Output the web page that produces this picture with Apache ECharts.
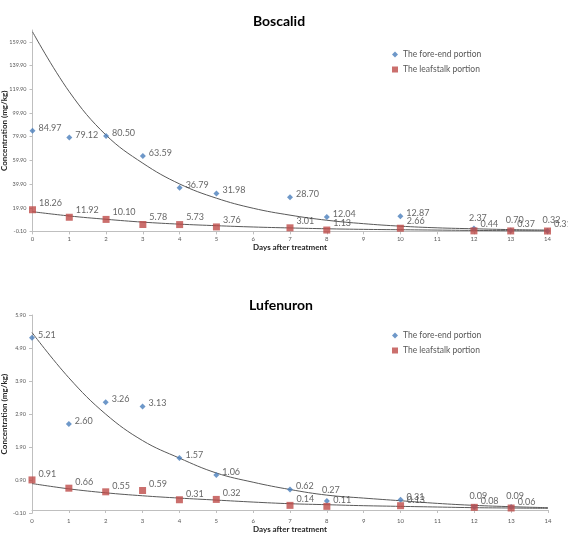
<!DOCTYPE html>
<html>
<head>
<meta charset="utf-8">
<script src="https://cdn.jsdelivr.net/npm/echarts@6/dist/echarts.min.js"></script>
<style>
  html, body { margin: 0; padding: 0; background: #fff; }
  #chart { width: 568px; height: 533px; }
</style>
</head>
<body>
<div id="chart"></div>
<script>
// measured residues
const boscalidDays = [0, 1, 2, 3, 4, 5, 7, 8, 10, 12, 13, 14]
const boscalidForeEnd = [84.97, 79.12, 80.50, 63.59, 36.79, 31.98, 28.70, 12.04, 12.87, 2.37, 0.70, 0.32]
const boscalidLeafstalk = [18.26, 11.92, 10.10, 5.78, 5.73, 3.76, 3.01, 1.13, 2.66, 0.44, 0.37, 0.31]

const lufenuronDays = [0, 1, 2, 3, 4, 5, 7, 8, 10, 12, 13]
const lufenuronForeEnd = [5.21, 2.60, 3.26, 3.13, 1.57, 1.06, 0.62, 0.27, 0.31, 0.09, 0.09]
const lufenuronLeafstalk = [0.91, 0.66, 0.55, 0.59, 0.31, 0.32, 0.14, 0.11, 0.13, 0.08, 0.06]

// trendlines at each day
const trendDays = [0, 1, 2, 3, 4, 5, 6, 7, 8, 9, 10, 11, 12, 13, 14]
const boscalidForeEndTrend = [168.4, 117.8, 81.2, 57.5, 40.0, 28.0, 19.5, 13.7, 9.4, 6.5, 4.4, 3.0, 2.2, 1.5, 1.1]
const boscalidLeafstalkTrend = [16.6, 13.0, 10.2, 7.8, 6.1, 4.8, 3.7, 2.9, 2.2, 1.7, 1.4, 1.1, 0.8, 0.6, 0.5]
const lufenuronForeEndTrend = [5.37, 4.0, 2.9, 2.1, 1.57, 1.12, 0.84, 0.62, 0.45, 0.36, 0.28, 0.2, 0.14, 0.1, 0.07]
const lufenuronLeafstalkTrend = [0.80, 0.64, 0.52, 0.43, 0.36, 0.30, 0.24, 0.19, 0.16, 0.13, 0.11, 0.09, 0.07, 0.06, 0.05]

// points whose data label sits above the marker instead of to the right
const boscalidForeEndAbove = [12, 13, 14]
const lufenuronForeEndAbove = [8, 12, 13]

const FONT = 'Lato'
const BLUE = '#4A7EBB'
const RED = '#BE4B48'
const AXIS = '#BFBFBF'
const FORE = 'The fore-end portion'
const LEAF = 'The leafstalk portion'

const zip = (xs, ys) => xs.map((x, i) => [x, ys[i]])

function points(xs, ys, above) {
  return xs.map((x, i) => {
    const item = { value: [x, ys[i]] }
    if (above && above.indexOf(x) >= 0) {
      item.label = { position: 'top', offset: [4, 0] }
    }
    return item
  })
}

function xAxis(gridIndex) {
  return {
    gridIndex,
    type: 'value',
    min: 0,
    max: 14,
    interval: 1,
    name: 'Days after treatment',
    nameLocation: 'middle',
    nameGap: 11,
    nameTextStyle: { fontFamily: FONT, fontSize: 8, fontWeight: 'bold', color: '#262626' },
    axisLine: { lineStyle: { color: AXIS } },
    axisTick: { length: 3, lineStyle: { color: AXIS } },
    axisLabel: { fontFamily: FONT, fontSize: 6, color: '#595959', margin: 5 },
    splitLine: { show: false }
  }
}

function yAxis(gridIndex, max, interval, showMax) {
  return {
    gridIndex,
    type: 'value',
    min: -0.1,
    max,
    interval,
    name: 'Concentration (mg/kg)',
    nameLocation: 'middle',
    nameGap: 24,
    nameMoveOverlap: false,
    nameTextStyle: { fontFamily: FONT, fontSize: 8, fontWeight: 'bold', color: '#262626' },
    axisLine: { show: true, lineStyle: { color: AXIS } },
    axisTick: { show: true, length: 3, lineStyle: { color: AXIS } },
    axisLabel: {
      fontFamily: FONT, fontSize: 5.5, color: '#595959', margin: 6,
      showMaxLabel: showMax,
      formatter: v => v.toFixed(2)
    },
    splitLine: { show: false }
  }
}

function scatter(name, idx, data, color, symbol, size, dy) {
  return {
    name,
    type: 'scatter',
    xAxisIndex: idx,
    yAxisIndex: idx,
    symbol,
    symbolSize: size,
    itemStyle: { color },
    z: 3,
    label: {
      show: true,
      position: 'right',
      distance: 3,
      offset: [0, dy],
      fontFamily: FONT,
      fontSize: 9,
      color: '#404040',
      formatter: p => p.value[1].toFixed(2)
    },
    data
  }
}

function trend(idx, data) {
  return {
    type: 'line',
    xAxisIndex: idx,
    yAxisIndex: idx,
    smooth: 0.4,
    symbol: 'none',
    silent: true,
    lineStyle: { color: '#595959', width: 1 },
    z: 2,
    data
  }
}

function legend(top) {
  return {
    orient: 'vertical',
    left: 387,
    top,
    itemWidth: 6,
    itemHeight: 6,
    itemGap: 6,
    textStyle: { fontFamily: FONT, fontSize: 8.5, color: '#595959' },
    data: [{ name: FORE, icon: 'diamond' }, { name: LEAF, icon: 'rect' }]
  }
}

const chart = echarts.init(document.getElementById('chart'))
chart.setOption({
  animation: false,
  title: [
    { text: 'Boscalid', left: 274, top: 9, textAlign: 'center',
      textStyle: { fontFamily: FONT, fontSize: 14, fontWeight: 'bold', color: '#000' } },
    { text: 'Lufenuron', left: 276, top: 293, textAlign: 'center',
      textStyle: { fontFamily: FONT, fontSize: 14, fontWeight: 'bold', color: '#000' } }
  ],
  legend: [legend(45), legend(326)],
  grid: [
    { left: 32.5, right: 20.5, top: 30, height: 201.5, outerBoundsMode: 'none' },
    { left: 32, right: 20, top: 315, height: 198.3, outerBoundsMode: 'none' }
  ],
  xAxis: [xAxis(0), xAxis(1)],
  yAxis: [yAxis(0, 169.9, 20, false), yAxis(1, 5.9, 1, true)],
  series: [
    trend(0, zip(trendDays, boscalidForeEndTrend)),
    trend(0, zip(trendDays, boscalidLeafstalkTrend)),
    scatter(FORE, 0, points(boscalidDays, boscalidForeEnd, boscalidForeEndAbove), BLUE, 'diamond', 6, -3),
    scatter(LEAF, 0, points(boscalidDays, boscalidLeafstalk), RED, 'rect', 7, -7),
    trend(1, zip(trendDays, lufenuronForeEndTrend)),
    trend(1, zip(trendDays, lufenuronLeafstalkTrend)),
    scatter(FORE, 1, points(lufenuronDays, lufenuronForeEnd, lufenuronForeEndAbove), BLUE, 'diamond', 6, -3),
    scatter(LEAF, 1, points(lufenuronDays, lufenuronLeafstalk), RED, 'rect', 7, -6)
  ]
})
</script>
</body>
</html>
